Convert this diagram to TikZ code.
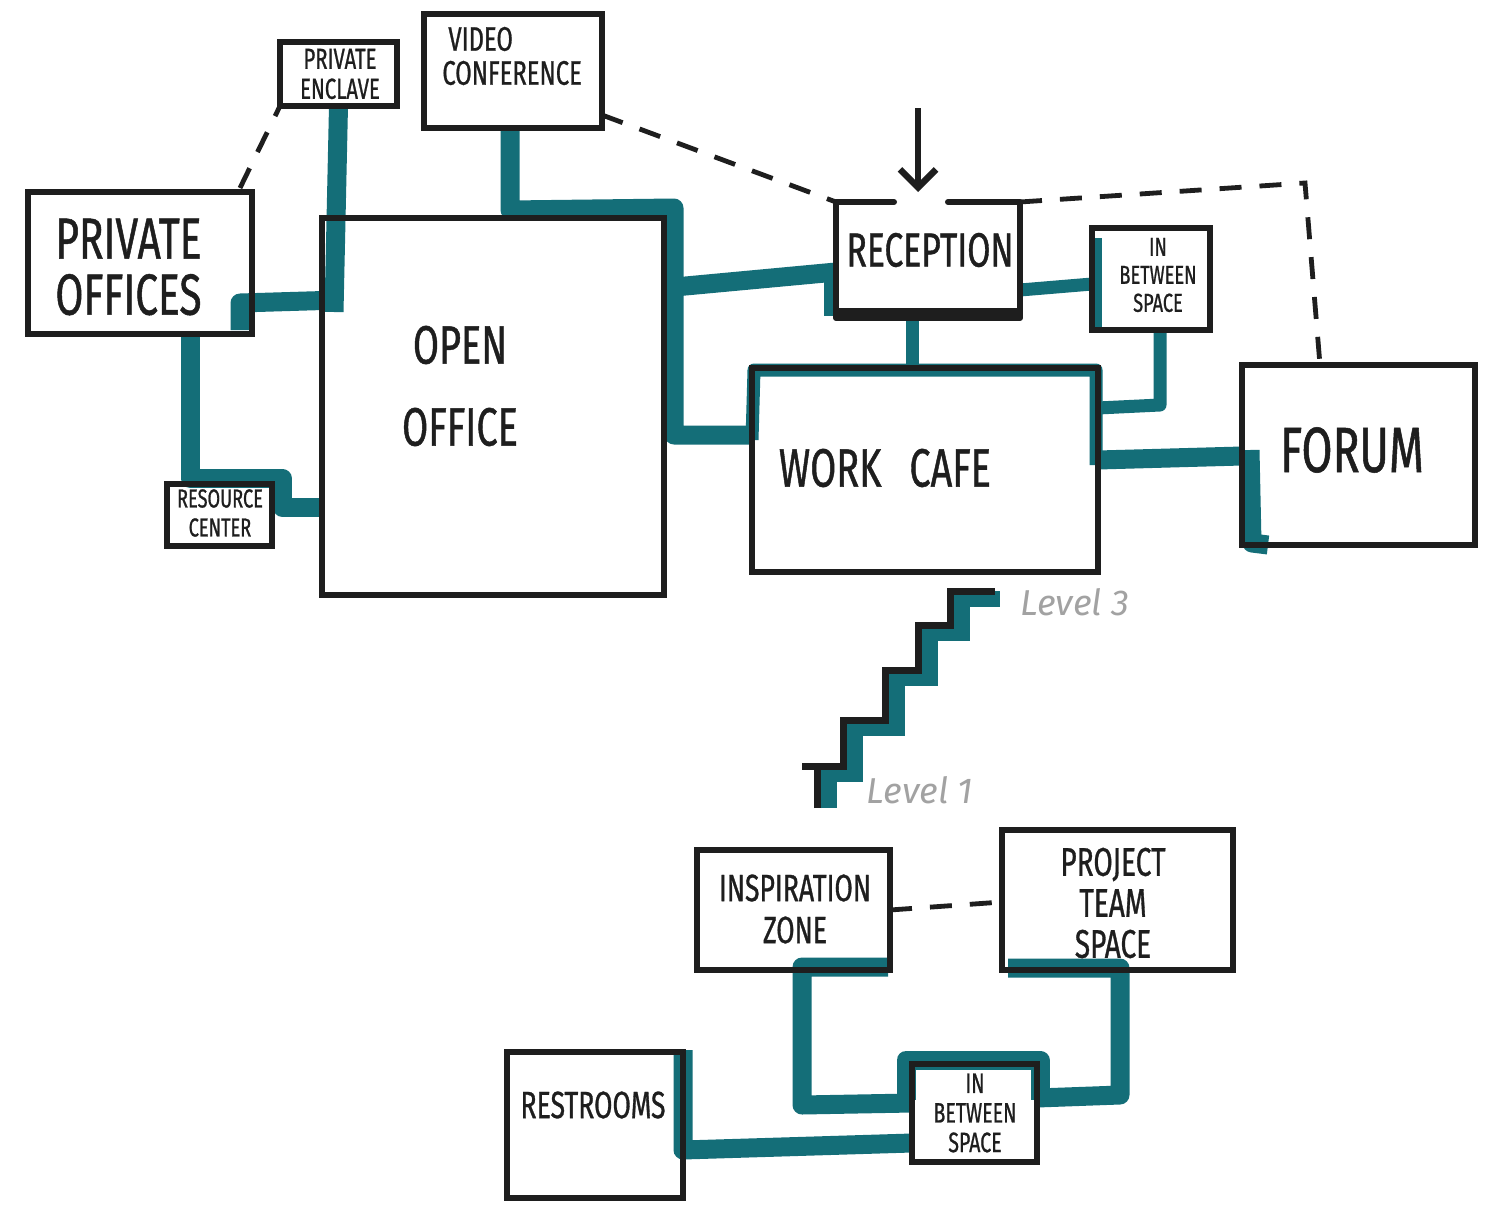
\documentclass[tikz,border=0pt]{standalone}
\usepackage{fontspec}
\setmainfont{Fira Sans}
\newfontfamily\hand[FakeStretch=0.7, FakeBold=0.8]{Fira Sans}
\usetikzlibrary{fit,arrows.meta}
\definecolor{inkteal}{HTML}{146E78}
\definecolor{ink}{HTML}{1E1E1E}
\definecolor{lvlgray}{HTML}{A2A2A2}
\newcommand\hsz[2]{\hand\fontsize{#1}{#2}\selectfont}
\tikzset{
  box/.style={draw=ink, line width=3pt, inner sep=0pt, outer sep=0pt},
  edgeline/.style={draw=ink, line width=3pt, line cap=round, line join=round},
  tealc/.style={draw=inkteal, line width=9.5pt, line join=round},
  tealthin/.style={draw=inkteal, line width=6.5pt, line join=round},
  dashc/.style={draw=ink, line width=2.4pt, dash pattern=on 11pt off 9pt},
  txt/.style={text=ink, align=center, inner sep=0pt},
  lvl/.style={text=lvlgray, inner sep=0pt, font={\itshape\fontsize{18}{18}\selectfont}}
}
\begin{document}
\begin{tikzpicture}[x=0.5pt, y=-0.5pt]
\useasboundingbox (0,0) rectangle (1495,1205);
\fill[white] (0,0) rectangle (1495,1205);

% ---------- box geometry (invisible, named) ----------
\node[inner sep=0pt, outer sep=0pt, fit={(280,42)(397,106)}] (pe) {};
\node[inner sep=0pt, outer sep=0pt, fit={(424,14)(602,128)}] (vc) {};
\node[inner sep=0pt, outer sep=0pt, fit={(28,192)(252,334)}] (po) {};
\node[inner sep=0pt, outer sep=0pt, fit={(322,218)(664,595)}] (oo) {};
\node[inner sep=0pt, outer sep=0pt, fit={(167,484)(272,546)}] (rc) {};
\node[inner sep=0pt, outer sep=0pt, fit={(836,202)(1020,318)}] (rec) {};
\node[inner sep=0pt, outer sep=0pt, fit={(1092,228)(1210,330)}] (ib1) {};
\node[inner sep=0pt, outer sep=0pt, fit={(752,368)(1098,572)}] (wc) {};
\node[inner sep=0pt, outer sep=0pt, fit={(1242,365)(1475,545)}] (fo) {};
\node[inner sep=0pt, outer sep=0pt, fit={(697,850)(890,970)}] (iz) {};
\node[inner sep=0pt, outer sep=0pt, fit={(1002,830)(1233,970)}] (pt) {};
\node[inner sep=0pt, outer sep=0pt, fit={(507,1052)(683,1198)}] (rr) {};
\node[inner sep=0pt, outer sep=0pt, fit={(912,1064)(1037,1162)}] (ib2) {};

% ---------- teal connectors (behind) ----------
\draw[tealc] (pe.south) -- (334,312);
\draw[tealc] (240,330) -- (240,303) -- (340,300);
\draw[tealc] (po.south -| 190,0) -- (190,478) -- (282,478) -- (282,507) -- (oo.west |- 0,507);
\draw[tealc] (vc.south -| 510,0) -- (510,210) -- (674,208) -- (674,435) -- (wc.west |- 0,435);
\draw[tealc] (oo.east |- 0,288) -- (rec.west |- 0,272);
\draw[tealthin] (830,266) -- (830,316);
\draw[tealthin] (rec.south -| 912,0) -- (wc.north -| 912,0);
\draw[tealthin] (wc.west |- 0,440) -- (754,370) -- (1096,370) -- (1096,465);
\draw[tealthin] (rec.east |- 0,290) -- (ib1.west |- 0,284);
\draw[tealthin] (1095,238) -- (1095,330);
\draw[tealthin] (ib1.south -| 1160,0) -- (1160,405) -- (wc.east |- 0,408);
\draw[tealc] (wc.east |- 0,460) -- (fo.west |- 0,456);
\draw[tealc] (1250,450) -- (1252,543) -- (1268,545);
% level 1
\draw[tealc] (888,967) -- (802,967) -- (802,1105) -- (ib2.west |- 0,1103);
\draw[tealc] (1008,968) -- (1120,968) -- (1120,1095) -- (ib2.east |- 0,1098);
\draw[tealc] (683,1050) -- (683,1150) -- (ib2.west |- 0,1143);
\draw[tealc] (906,1100) -- (906,1060) -- (1040,1060) -- (1040,1100);
% stair shadow
\draw[tealc, line width=8pt, line join=miter] (829,808) -- (829,774) -- (855,774) -- (855,728) -- (897,728) -- (897,678) -- (930,678) -- (930,633) -- (962,633) -- (962,599) -- (1000,599);

% ---------- box outlines ----------
\node[box, fit={(280,42)(397,106)}] {};
\node[box, fit={(424,14)(602,128)}] {};
\node[box, fit={(28,192)(252,334)}] {};
\node[box, fit={(322,218)(664,595)}] {};
\node[box, fit={(167,484)(272,546)}] {};
\draw[edgeline] (894,202) -- (836,202) -- (836,318) -- (1020,318) -- (1020,202) -- (948,202);
\draw[ink, line width=5pt] (838,313) -- (1018,313);
\node[box, fit={(1092,228)(1210,330)}] {};
\node[box, fit={(752,368)(1098,572)}] {};
\node[box, fit={(1242,365)(1475,545)}] {};
\node[box, fit={(697,850)(890,970)}] {};
\node[box, fit={(1002,830)(1233,970)}] {};
\node[box, fit={(507,1052)(683,1198)}] {};
\node[box, fit={(912,1064)(1037,1162)}] {};

% ---------- staircase ----------
\draw[ink, line width=3.5pt, line join=miter] (817,808) -- (817,766);
\draw[ink, line width=3.5pt, line join=miter] (802,766) -- (843,766) -- (843,720) -- (885,720) -- (885,670) -- (918,670) -- (918,625) -- (950,625) -- (950,591) -- (995,591);

% ---------- dashed relations ----------
\draw[dashc] (240,188) -- (pe.south west);
\draw[dashc] (vc.east |- 0,115) -- (rec.north west);
\draw[dashc] (rec.north east) -- (1305,183) -- (fo.north -| 1320,0);
\draw[dashc] (iz.east |- 0,910) -- (pt.west |- 0,902);

% ---------- entrance arrow ----------
\coordinate (entry) at (918,108);
\draw[ink, line width=3.2pt, -{Straight Barb[length=9pt, width=18pt, line width=3.2pt]}] (entry) -- (918,192);

% ---------- labels ----------
\node[txt, font={\hsz{14.5}{15}}] (tpe) at (340,74) {PRIVATE\\ENCLAVE};
\node[txt, anchor=west, align=left, font={\hsz{17}{17}}] (tvc) at (442,56) {\hspace*{3pt}VIDEO\\CONFERENCE};
\node[txt, anchor=west, align=left, font={\hsz{29}{28}}] (tpo) at (55,267) {PRIVATE\\OFFICES};
\node[txt, font={\hsz{27}{41}}] (too) at (460,386) {OPEN\\OFFICE};
\node[txt, font={\hsz{13}{14.5}}] (trc) at (220,513) {RESOURCE\\CENTER};
\node[txt, font={\hsz{24}{24}}] (trec) at (930,250) {RECEPTION};
\node[txt, font={\hsz{13}{14}}] (tib1) at (1158,275) {IN\\BETWEEN\\SPACE};
\node[txt, font={\hsz{27}{27}}] (twc) at (885,468) {WORK\hspace{14pt}CAFE};
\node[txt, font={\hsz{32}{32}}] (tfo) at (1352,450) {FORUM};
\node[txt, font={\hsz{19}{21}}] (tiz) at (795,909) {INSPIRATION\\ZONE};
\node[txt, font={\hsz{20}{20.5}}] (tpt) at (1113,903) {PROJECT\\TEAM\\SPACE};
\node[txt, font={\hsz{19}{19}}] (trr) at (593,1105) {RESTROOMS};
\node[txt, font={\hsz{14}{14.8}}] (tib2) at (975,1113) {IN\\BETWEEN\\SPACE};
\node[lvl] (l3) at (1075,602) {Level 3};
\node[lvl] (l1) at (920,790) {Level 1};
\end{tikzpicture}
\end{document}
